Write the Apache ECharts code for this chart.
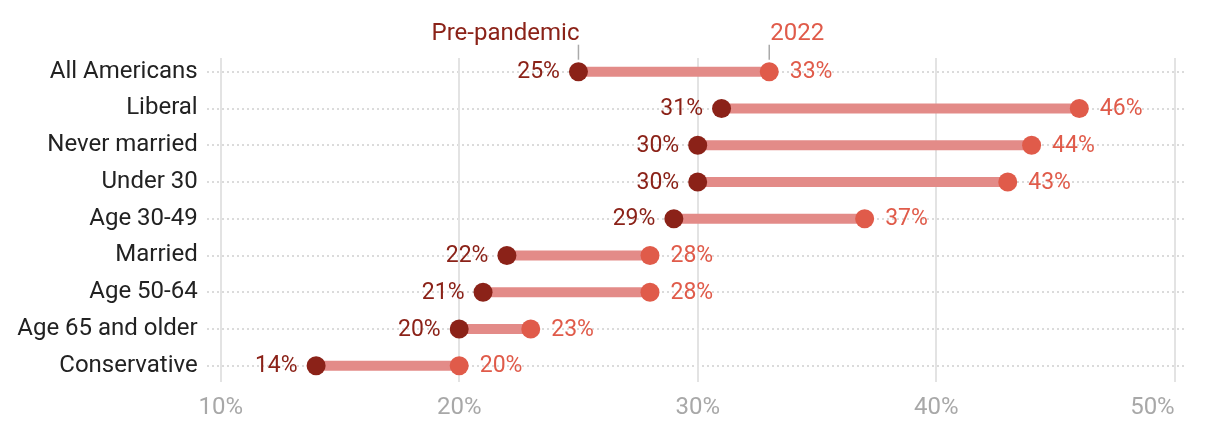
<!DOCTYPE html>
<html>
<head>
<meta charset="utf-8">
<script src="https://cdn.jsdelivr.net/npm/echarts@6/dist/echarts.min.js"></script>
<style>
  html, body { margin: 0; padding: 0; background: #fff; }
  #chart { width: 1220px; height: 436px; }
</style>
</head>
<body>
<div id="chart"></div>
<script>
// data
const categories = ['All Americans', 'Liberal', 'Never married', 'Under 30', 'Age 30-49', 'Married', 'Age 50-64', 'Age 65 and older', 'Conservative']
const prePandemic = [25, 31, 30, 30, 29, 22, 21, 20, 14]
const y2022 = [33, 46, 44, 43, 37, 28, 28, 23, 20]
const xTicks = [10, 20, 30, 40, 50]
const seriesNames = ['Pre-pandemic', '2022']

const DARK = '#8b2218'
const LIGHT = '#e05b4a'
const BAR = '#e38b88'
const FONT = 'Roboto'

const chart = echarts.init(document.getElementById('chart'))

const gap = y2022.map((v, i) => v - prePandemic[i])

const option = {
  animation: false,
  backgroundColor: '#fff',
  textStyle: { fontFamily: FONT },
  grid: [
    // main plot
    { left: 220.7, right: 45.3, top: 71.7, bottom: 70.3 },
    // vertical gridlines + x labels
    { left: 220.7, right: 45.3, top: 58, bottom: 54 },
    // horizontal dotted lines (wider)
    { left: 207, right: 34, top: 71.7, bottom: 70.3 }
  ],
  xAxis: [
    { gridIndex: 0, type: 'value', min: xTicks[0], max: xTicks[xTicks.length - 1], interval: 10, show: false },
    {
      gridIndex: 1, type: 'value', min: xTicks[0], max: xTicks[xTicks.length - 1], interval: 10,
      axisLine: { show: false }, axisTick: { show: false },
      axisLabel: {
        color: '#a8a8a8', fontSize: 24, fontFamily: FONT, margin: 14, formatter: '{value}%',
        alignMaxLabel: 'right'
      },
      splitLine: { show: true, lineStyle: { color: '#e3e3e3', width: 2 } }
    },
    { gridIndex: 2, type: 'value', min: 0, max: 1, show: false }
  ],
  yAxis: [
    {
      gridIndex: 0, type: 'category', data: categories, inverse: true, boundaryGap: false,
      axisLine: { show: false }, axisTick: { show: false },
      axisLabel: { color: '#222', fontSize: 24, fontFamily: FONT, margin: 23 },
      splitLine: { show: false }
    },
    { gridIndex: 1, type: 'value', show: false },
    {
      gridIndex: 2, type: 'category', data: categories, inverse: true, boundaryGap: false,
      axisLine: { show: false }, axisTick: { show: false }, axisLabel: { show: false },
      splitLine: { show: true, lineStyle: { color: '#cfcfcf', type: [2, 3], width: 1.5 } }
    }
  ],
  series: [
    {
      type: 'bar', stack: 'range', xAxisIndex: 0, yAxisIndex: 0,
      data: prePandemic, barWidth: 10, itemStyle: { color: 'transparent' }, silent: true
    },
    {
      type: 'bar', stack: 'range', xAxisIndex: 0, yAxisIndex: 0,
      data: gap, barWidth: 10, itemStyle: { color: BAR }, silent: true
    },
    {
      name: seriesNames[0], type: 'scatter', xAxisIndex: 0, yAxisIndex: 0,
      data: prePandemic.map((v, i) => [v, categories[i]]),
      symbolSize: 19, itemStyle: { color: DARK, opacity: 1 },
      label: {
        show: true, position: 'left', distance: 9, color: DARK, fontSize: 23, fontFamily: FONT,
        offset: [0, 1], formatter: p => p.value[0] + '%'
      },
      z: 5
    },
    {
      name: seriesNames[1], type: 'scatter', xAxisIndex: 0, yAxisIndex: 0,
      data: y2022.map((v, i) => [v, categories[i]]),
      symbolSize: 19, itemStyle: { color: LIGHT, opacity: 1 },
      label: {
        show: true, position: 'right', distance: 11, color: LIGHT, fontSize: 23, fontFamily: FONT,
        offset: [0, 1], formatter: p => p.value[0] + '%'
      },
      z: 5
    }
  ]
}

chart.setOption(option)

// header labels with leader lines above the first row
const p0 = chart.convertToPixel({ gridIndex: 0 }, [prePandemic[0], categories[0]])
const p1 = chart.convertToPixel({ gridIndex: 0 }, [y2022[0], categories[0]])
const headers = [
  { pt: p0, text: seriesNames[0], color: DARK, align: 'right' },
  { pt: p1, text: seriesNames[1], color: LIGHT, align: 'left' }
]
chart.setOption({
  graphic: headers.flatMap(h => [
    {
      type: 'line', silent: true,
      shape: { x1: h.pt[0], y1: h.pt[1] - 27, x2: h.pt[0], y2: h.pt[1] - 12 },
      style: { stroke: '#aaa', lineWidth: 1.5 }
    },
    {
      type: 'text', silent: true,
      x: h.pt[0] + 1, y: h.pt[1] - 38,
      style: { text: h.text, fill: h.color, fontSize: 24, fontFamily: FONT, align: h.align, verticalAlign: 'middle' }
    }
  ])
})
</script>
</body>
</html>
